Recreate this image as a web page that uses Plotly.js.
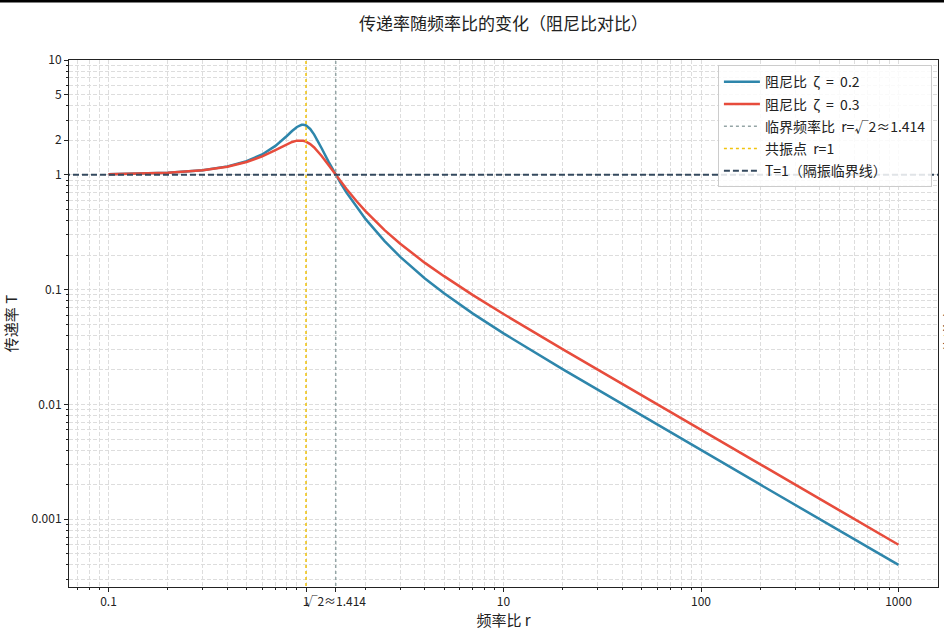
<!DOCTYPE html>
<html>
<head>
<meta charset="utf-8">
<script src="https://cdn.plot.ly/plotly-3.0.1.min.js"></script>
<style>
  html, body { margin: 0; padding: 0; background: #ffffff; }
  #chart { width: 944px; height: 640px; }
</style>
</head>
<body>
<div id="chart"></div>
<script>
// Frequency ratio samples.
const ratio = [0.1, 0.2, 0.3, 0.4, 0.5, 0.6, 0.7, 0.75, 0.8, 0.85, 0.9, 0.95, 0.97, 1.0, 1.05, 1.1, 1.15, 1.2, 1.3,
    1.414, 1.5, 1.6, 1.8, 2, 2.5, 3, 4, 5, 7, 10, 20, 50, 100, 200, 500, 1000];

// Transmissibility for zeta = 0.2.
const transZeta02 = [1.010, 1.041, 1.097, 1.184, 1.314, 1.505, 1.785, 1.968, 2.180, 2.407, 2.611, 2.727, 2.733, 2.693,
    2.509, 2.241, 1.959, 1.704, 1.305, 1.000, 0.841, 0.704, 0.524, 0.413, 0.265, 0.193, 0.125, 0.0929, 0.0618, 0.0416,
    0.0202, 0.00801, 0.00400, 0.00200, 0.00080, 0.00040];

// Transmissibility for zeta = 0.3.
const transZeta03 = [1.010, 1.041, 1.095, 1.177, 1.293, 1.447, 1.642, 1.747, 1.849, 1.933, 1.985, 1.991, 1.978, 1.944,
    1.852, 1.730, 1.595, 1.460, 1.218, 1.000, 0.873, 0.757, 0.592, 0.483, 0.330, 0.251, 0.171, 0.131, 0.0896, 0.0613,
    0.0302, 0.0120, 0.00600, 0.00300, 0.00120, 0.00060];

// Reference lines.
const criticalRatio = 1.414;
const resonanceRatio = 1;
const isolationLevel = 1;

// Axis ticks.
const xTickVals = [0.1, 1, 1.414, 10, 100, 1000];
const xTickText = ['0.1', '1', '√2≈1.414', '10', '100', '1000'];
const yTickVals = [0.001, 0.01, 0.1, 1, 2, 5, 10];
const yTickText = ['0.001', '0.01', '0.1', '1', '2', '5', '10'];

// Minor ticks (2..9 in every decade).
const minorDigits = [2, 3, 4, 5, 6, 7, 8, 9];
const xMinor = [0.07, 0.08, 0.09].concat(
    ...[0.1, 1, 10, 100].map(d => minorDigits.map(m => +(m * d).toPrecision(3))));
const yMinor = [0.0003, 0.0004, 0.0005, 0.0006, 0.0007, 0.0008, 0.0009].concat(
    ...[0.001, 0.01, 0.1, 1].map(d => minorDigits.map(m => +(m * d).toPrecision(3))));

const font = 'Noto Sans CJK SC, sans-serif';
const gridStyle = { showgrid: true, gridcolor: '#dddddd', griddash: '4px,2px', gridwidth: 1 };

Plotly.newPlot(document.getElementById('chart'), [
    {
        x: ratio, y: transZeta02, type: 'scatter', mode: 'lines',
        name: '阻尼比  ζ  =  0.2', legendgroup: 'a',
        line: { color: '#2E86AB', width: 2.5 }
    },
    {
        x: ratio, y: transZeta03, type: 'scatter', mode: 'lines',
        name: '阻尼比  ζ  =  0.3', legendgroup: 'b',
        line: { color: '#E74C3C', width: 2.5 }
    },
    {
        x: [criticalRatio, criticalRatio], y: [1e-4, 100], type: 'scatter', mode: 'lines',
        name: '临界频率比  r=√2≈1.414', legendgroup: 'c',
        line: { color: '#95A5A6', width: 1.5, dash: 'dot' }
    },
    {
        x: [resonanceRatio, resonanceRatio], y: [1e-4, 100], type: 'scatter', mode: 'lines',
        name: '共振点  r=1', legendgroup: 'd',
        line: { color: '#F1C40F', width: 1.5, dash: 'dot' }
    },
    {
        x: [0.01, 1e4], y: [isolationLevel, isolationLevel], type: 'scatter', mode: 'lines',
        name: 'T=1（隔振临界线）', legendgroup: 'e',
        line: { color: '#34495E', width: 2, dash: '6px,3px' }
    }
], {
    width: 944,
    height: 640,
    margin: { l: 69, r: 6, t: 60, b: 53 },
    paper_bgcolor: '#ffffff',
    plot_bgcolor: '#ffffff',
    font: { family: font, color: '#222222', size: 12 },
    title: {
        text: '传递率随频率比的变化（阻尼比对比）',
        font: { family: font, size: 17, color: '#222222' },
        x: 0.5, xref: 'paper', xanchor: 'center', y: 0.963, yref: 'container', yanchor: 'middle'
    },
    xaxis: Object.assign({
        type: 'log', range: [-1.2, 3.2], autorange: false,
        tickmode: 'array', tickvals: xTickVals, ticktext: xTickText, tickangle: 0,
        ticks: 'outside', ticklen: 4, tickcolor: '#222222',
        showline: true, mirror: true, linecolor: '#222222', linewidth: 1,
        zeroline: false, automargin: false,
        tickfont: { family: font, size: 12 },
        minor: Object.assign({
            tickmode: 'array', tickvals: xMinor, ticks: 'outside', ticklen: 2, tickcolor: '#222222'
        }, gridStyle),
        title: { text: '频率比 r', font: { family: font, size: 15 }, standoff: 3 }
    }, gridStyle),
    yaxis: Object.assign({
        type: 'log', range: [-3.59, 1], autorange: false,
        tickmode: 'array', tickvals: yTickVals, ticktext: yTickText,
        ticks: 'outside', ticklen: 4, tickcolor: '#222222',
        showline: true, mirror: true, linecolor: '#222222', linewidth: 1,
        zeroline: false, automargin: false,
        tickfont: { family: font, size: 12 },
        minor: Object.assign({
            tickmode: 'array', tickvals: yMinor, ticks: 'outside', ticklen: 2, tickcolor: '#222222'
        }, gridStyle),
        title: { text: '传递率 T', font: { family: font, size: 15 }, standoff: 16 }
    }, gridStyle),
    showlegend: true,
    legend: {
        x: 0.993, xanchor: 'right', y: 0.99, yanchor: 'top',
        bgcolor: 'rgba(255,255,255,0.85)', bordercolor: '#cccccc', borderwidth: 1,
        font: { family: font, size: 14, color: '#222222' },
        tracegroupgap: 1, itemwidth: 36
    },
    annotations: [
        {
            // Right-hand axis label, cut by the figure edge.
            text: '传递率 T', xref: 'paper', yref: 'paper', x: 1.0138, y: 0.5,
            xanchor: 'center', yanchor: 'middle', textangle: -90, showarrow: false,
            font: { family: font, size: 15, color: '#222222' }
        }
    ],
    shapes: [
        {
            // Dark border along the top edge of the picture.
            type: 'line', xref: 'paper', yref: 'paper',
            x0: -0.1, x1: 1.1, y0: 1.112, y1: 1.112,
            line: { color: '#000000', width: 3 }
        }
    ]
}, { staticPlot: true });
</script>
</body>
</html>
